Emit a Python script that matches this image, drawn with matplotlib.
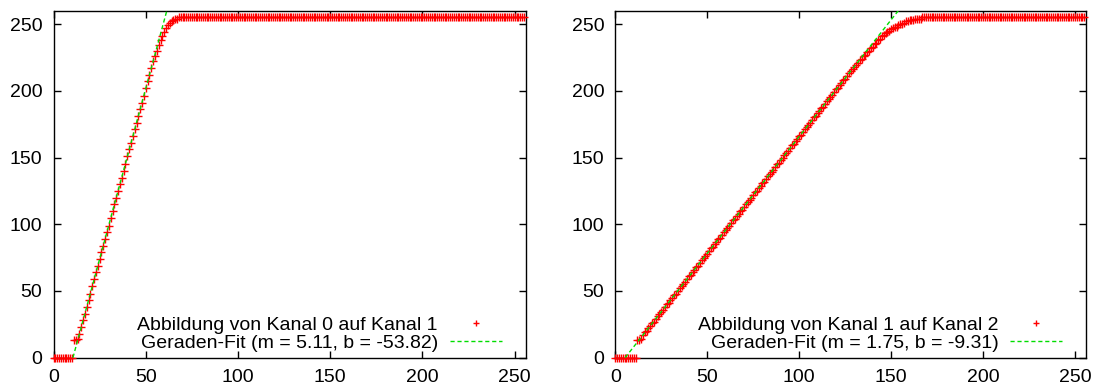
import numpy as np
import matplotlib
matplotlib.use("Agg")
import matplotlib.pyplot as plt

plt.rcParams['font.family'] = ['Liberation Sans', 'DejaVu Sans']
plt.rcParams['font.size'] = 14

# Kanal 0 -> Kanal 1 (value for each input level 0..255)
kanal0_auf_1 = ([0] * 11 +
                [13, 13, 14, 18, 23, 28, 33, 38, 43, 48,
                 54, 59, 64, 69, 74, 79, 84, 89, 94, 99,
                 105, 110, 115, 120, 125, 130, 135, 140, 145,
                 151, 156, 161, 166, 171, 176, 181, 186, 191, 196,
                 202, 207, 212, 217, 222,
                 226, 230, 234, 238, 241, 244, 247, 249, 251, 252, 253, 254, 254] +
                [255] * 188)

# Kanal 1 -> Kanal 2
kanal1_auf_2 = ([0] * 12 +
                [13, 13, 14, 17,
                 19, 20, 22, 24, 26, 27, 29, 31, 33, 34,
                 36, 38, 40, 41, 43, 45, 47, 48, 50, 52,
                 54, 55, 57, 59, 61, 62, 64, 66, 68, 69,
                 71, 73, 75, 76, 78, 80, 82, 83, 85, 87,
                 89, 90, 92, 94, 96, 97, 99, 101, 103, 104,
                 106, 108, 110, 111, 113, 115, 117, 118, 120, 122,
                 124, 125, 127, 129, 131, 132, 134, 136, 138, 139,
                 141, 143, 145, 146, 148, 150, 152, 153, 155, 157,
                 159, 160, 162, 164, 166, 167, 169, 171, 173, 174,
                 176, 178, 180, 181, 183, 185, 187, 188, 190, 192,
                 194, 195, 197, 199, 201, 202, 204, 206, 208, 209,
                 211, 213, 215, 216, 218,
                 219, 221, 223, 224, 226, 227, 229, 230, 232, 233,
                 235, 236, 238, 239, 241, 242, 243, 244, 245, 246,
                 247, 248, 248, 249, 250, 250, 251, 252, 252, 253,
                 253, 253, 254, 254, 254, 254] +
                [255] * 89)

# fit parameters (from the legend)
fit_m = [5.11, 1.75]
fit_b = [-53.82, -9.31]
labels = ["Abbildung von Kanal 0 auf Kanal 1", "Abbildung von Kanal 1 auf Kanal 2"]
series = [kanal0_auf_1, kanal1_auf_2]
ticks = [0, 50, 100, 150, 200, 250]

fig = plt.figure(figsize=(10.99, 3.89), dpi=100)
axes = [fig.add_axes([0.0487, 0.0805, 0.4297, 0.892]),
        fig.add_axes([0.5599, 0.0805, 0.4283, 0.892])]

for ax, y, m, b, lab in zip(axes, series, fit_m, fit_b, labels):
    x = np.arange(len(y))
    ax.plot(x, y, linestyle='none', marker='+', color='#ff0000',
            markersize=5.5, markeredgewidth=1.0, label=lab, clip_on=False, zorder=3)
    ax.axline((0, b), slope=m, color='#00dd00', linestyle=(0, (3, 2)),
              linewidth=1.0, label="Geraden-Fit (m = %.2f, b = %.2f)" % (m, b), zorder=4)
    ax.set_xlim(0, 256)
    ax.set_ylim(0, 260)
    ax.set_xticks(ticks)
    ax.set_yticks(ticks)
    ax.tick_params(direction='in', top=True, right=True, length=5, width=1,
                   labelsize=14)
    ax.tick_params(axis='x', pad=8)
    ax.tick_params(axis='y', pad=8)
    for s in ax.spines.values():
        s.set_linewidth(1.0)
    leg = ax.legend(loc='lower right', bbox_to_anchor=(0.95, 0.017), frameon=False,
                    markerfirst=False, borderaxespad=0, borderpad=0.0,
                    handlelength=2.7, handletextpad=0.6, labelspacing=0.0,
                    fontsize=14, markerscale=0.8)

fig.savefig('out.png', dpi=100)
